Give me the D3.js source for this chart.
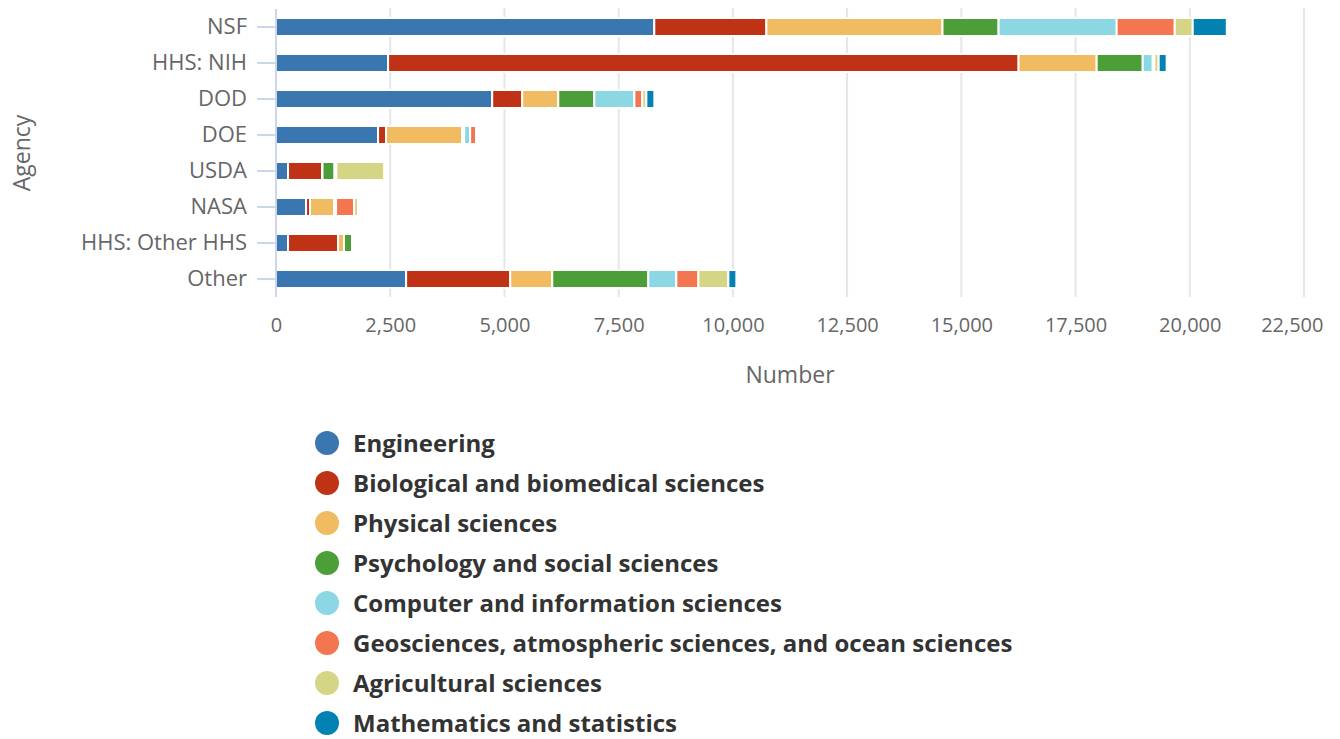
<!DOCTYPE html>
<html>
<head>
<meta charset="utf-8">
<script src="https://cdn.jsdelivr.net/npm/d3@7"></script>
<style>
  body { margin: 0; background: #fff; }
  svg { display: block; font-family: "Open Sans", sans-serif; }
</style>
</head>
<body>
<div id="vis"></div>
<script>
const agencies = ['NSF', 'HHS: NIH', 'DOD', 'DOE', 'USDA', 'NASA', 'HHS: Other HHS', 'Other']

const fields = ['Engineering', 'Biological and biomedical sciences', 'Physical sciences',
  'Psychology and social sciences', 'Computer and information sciences',
  'Geosciences, atmospheric sciences, and ocean sciences', 'Agricultural sciences',
  'Mathematics and statistics']

const fieldColors = ['#3a77b0', '#bf3215', '#f1bb62', '#4c9e38', '#8bd8e4', '#f47651', '#d4d686', '#0282b2']

// values per field, in the order of agencies
const engineering = [8280, 2453, 4732, 2234, 263, 657, 263, 2848]
const biological = [2453, 13800, 657, 175, 745, 88, 1095, 2278]
const physical = [3855, 1709, 789, 1665, 10, 526, 131, 920]
const psychology = [1227, 1008, 789, 44, 263, 22, 175, 2103]
const computer = [2585, 219, 876, 131, 20, 22, 10, 613]
const geosciences = [1271, 35, 175, 131, 20, 394, 5, 482]
const agricultural = [394, 95, 88, 10, 1051, 88, 5, 657]
const mathematics = [745, 175, 175, 10, 5, 10, 5, 175]

const xTicks = [0, 2500, 5000, 7500, 10000, 12500, 15000, 17500, 20000, 22500]

const seriesValues = [engineering, biological, physical, psychology, computer, geosciences, agricultural, mathematics]

const rows = agencies.map((a, i) => {
  let row = {agency: a}
  fields.forEach((f, j) => row[f] = seriesValues[j][i])
  return row
})

const width = 1340, height = 739
const margin = {left: 276, top: 9, right: 36, bottom: 442}

let svg = d3.select('#vis').append('svg')
  .attr('width', width)
  .attr('height', height)

let xScale = d3.scaleLinear([0, 22500], [margin.left, 1304])
let yScale = d3.scaleBand(agencies, [margin.top, 297])
let colorScale = d3.scaleOrdinal(fields, fieldColors)

// gridlines
svg.append('g')
  .selectAll('line')
  .data(xTicks.slice(1))
  .enter()
  .append('line')
    .attr('x1', d => xScale(d))
    .attr('x2', d => xScale(d))
    .attr('y1', margin.top - 1)
    .attr('y2', 297)
    .attr('stroke', '#e6e6e6')
    .attr('stroke-width', 2)

// x axis labels only
let xAxis = d3.axisBottom(xScale)
  .tickValues(xTicks)
  .tickFormat(d3.format(','))
  .tickSize(0)
  .tickPadding(21)

svg.append('g')
  .attr('transform', 'translate(0, 297)')
  .call(xAxis)
  .call(g => g.select('.domain').remove())
  .call(g => g.selectAll('.tick text')
    .attr('fill', '#666666')
    .attr('font-size', 20)
    .attr('font-family', '"Open Sans", sans-serif'))
  // last label is pushed inside the chart edge
  .call(g => g.selectAll('.tick text')
    .filter(d => d === 22500)
    .attr('text-anchor', 'end')
    .attr('dx', 19))

// stacked bars
let stack = d3.stack().keys(fields)
let stacked = stack(rows)

svg.append('g')
  .selectAll('g')
  .data(stacked)
  .enter()
  .append('g')
    .attr('fill', d => colorScale(d.key))
  .selectAll('rect')
  .data(d => d)
  .enter()
  .append('rect')
    .attr('x', d => xScale(d[0]))
    .attr('width', d => xScale(d[1]) - xScale(d[0]))
    .attr('y', d => yScale(d.data.agency) + yScale.bandwidth() / 2 - 9)
    .attr('height', 18)
    .attr('stroke', '#ffffff')
    .attr('stroke-width', 2)

// y axis
let yAxis = d3.axisLeft(yScale)
  .tickSize(19)
  .tickPadding(10)

svg.append('g')
  .attr('transform', `translate(${margin.left}, 0)`)
  .call(yAxis)
  .call(g => g.select('.domain')
    .attr('stroke', '#ccd6eb')
    .attr('stroke-width', 2)
    .attr('d', `M0,${margin.top}V297`))
  .call(g => g.selectAll('.tick line')
    .attr('stroke', '#ccd6eb')
    .attr('stroke-width', 2))
  .call(g => g.selectAll('.tick text')
    .attr('fill', '#666666')
    .attr('font-size', 22)
    .attr('font-family', '"Open Sans", sans-serif'))

// axis titles
svg.append('text')
  .text('Number')
  .attr('x', (xScale(0) + xScale(22500)) / 2)
  .attr('y', 383)
  .attr('text-anchor', 'middle')
  .attr('font-size', 23)
  .attr('fill', '#666666')

svg.append('text')
  .text('Agency')
  .attr('transform', 'translate(30, 153) rotate(-90)')
  .attr('text-anchor', 'middle')
  .attr('font-size', 23)
  .attr('fill', '#666666')

// legend
let legend = svg.append('g')
  .selectAll('g')
  .data(fields)
  .enter()
  .append('g')
    .attr('transform', (d, i) => `translate(327, ${443 + i * 40})`)

legend.append('circle')
  .attr('r', 12)
  .attr('fill', d => colorScale(d))

legend.append('text')
  .text(d => d)
  .attr('x', 26)
  .attr('y', 9)
  .attr('font-size', 24)
  .attr('font-weight', 'bold')
  .attr('fill', '#333333')
</script>
</body>
</html>
